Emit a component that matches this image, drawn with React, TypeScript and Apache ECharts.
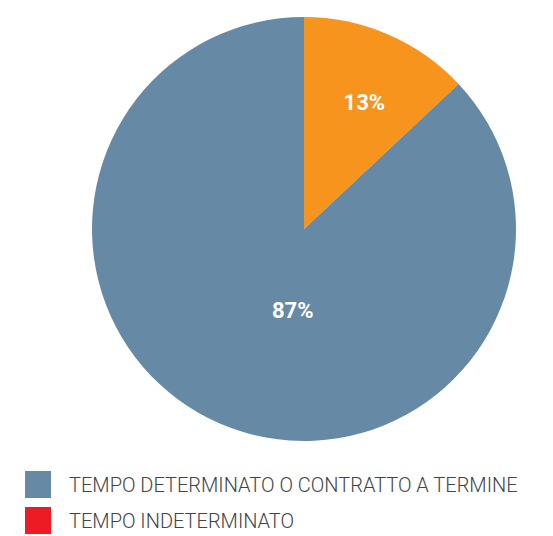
import React, { useEffect, useRef } from "react";
import * as echarts from "echarts";

const categories = ["TEMPO INDETERMINATO", "TEMPO DETERMINATO O CONTRATTO A TERMINE"];
const values = [13, 87];
const sliceColors = ["#F7941D", "#668AA6"];
const legendOrder = ["TEMPO DETERMINATO O CONTRATTO A TERMINE", "TEMPO INDETERMINATO"];
const legendColors = ["#668AA6", "#ED1C24"];
const labelOffsets = [[17, -26], [32, -19]];

export default function App() {
  const ref = useRef<HTMLDivElement>(null);
  useEffect(() => {
    if (!ref.current) return;
    const chart = echarts.init(ref.current, null, { renderer: "svg" });
    chart.setOption({
      animation: false,
      backgroundColor: "#ffffff",
      legend: {
        orient: "vertical",
        left: 25,
        top: 471,
        padding: 0,
        height: 65,
        icon: "rect",
        itemWidth: 26,
        itemHeight: 27,
        itemGap: 9,
        selectedMode: false,
        textStyle: {
          fontFamily: "Roboto",
          fontSize: 20,
          fontWeight: 300,
          color: "#444444",
          padding: [4, 0, 0, 13],
        },
        data: legendOrder.map((n, i) => ({ name: n, itemStyle: { color: legendColors[i] } })),
      },
      series: [
        {
          type: "pie",
          center: [304, 229],
          radius: 212,
          startAngle: 90,
          clockwise: true,
          avoidLabelOverlap: false,
          label: {
            show: true,
            position: "inside",
            formatter: "{c}%",
            color: "#ffffff",
            fontFamily: "Roboto",
            fontWeight: "bold",
            fontSize: 22,
          },
          labelLine: { show: false },
          emphasis: { disabled: true },
          itemStyle: { borderWidth: 0 },
          data: categories.map((c, i) => ({
            name: c,
            value: values[i],
            itemStyle: { color: sliceColors[i] },
            label: { offset: labelOffsets[i] },
          })),
        },
      ],
    });
    return () => chart.dispose();
  }, []);
  return (
    <div
      ref={ref}
      style={{ position: "fixed", left: 0, top: 0, width: 553, height: 536 }}
    />
  );
}
